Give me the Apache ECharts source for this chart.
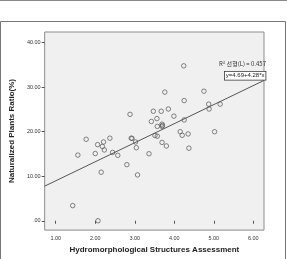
<!DOCTYPE html>
<html>
<head>
<meta charset="utf-8">
<script src="https://cdn.jsdelivr.net/npm/echarts@6/dist/echarts.min.js"></script>
<style>
  html, body { margin: 0; padding: 0; background: #fff; }
  #main { width: 287px; height: 259px; }
</style>
</head>
<body>
<div id="main"></div>
<script>
// 散点数据 (评估值, 归化植物比例)
var xVals = [1.43, 2.07, 1.56, 1.77, 2.00, 2.06, 2.18, 2.21, 2.23, 2.15,
             2.37, 2.44, 2.57, 2.80, 2.88, 2.91, 2.93, 3.02, 3.04, 3.07,
             3.36, 3.42, 3.47, 3.51, 3.56, 3.57, 3.57, 3.67, 3.69, 3.70,
             3.69, 3.69, 3.76, 3.80, 3.85, 3.99, 4.15, 4.20, 4.24, 4.25,
             4.25, 4.35, 4.37, 4.75, 4.87, 4.88, 5.02, 5.16];
var yVals = [3.4, 0.0, 14.75, 18.3, 15.1, 17.1, 16.7, 17.7, 15.9, 10.9,
             18.55, 15.35, 14.7, 12.6, 23.9, 18.55, 18.5, 17.7, 16.4, 10.3,
             15.05, 22.3, 24.6, 19.15, 22.95, 19.0, 21.2, 24.6, 21.7, 21.4,
             21.2, 17.6, 28.9, 16.8, 25.1, 23.5, 20.0, 19.2, 34.8, 27.0,
             22.65, 19.5, 16.3, 29.1, 26.2, 25.1, 20.0, 26.2];

// 回归系数
var fitCoef = [4.69, 4.28];

// 坐标轴范围与刻度
var xRange = [0.72, 6.27];
var yRange = [-2.1, 42.4];
var xTicks = [1, 2, 3, 4, 5, 6];
var yTicks = [0, 10, 20, 30, 40];

var aoPts = [];
for (var i = 0; i < xVals.length; i++) {
    aoPts.push([xVals[i], yVals[i]]);
}
var aoFit = [
    [xRange[0], fitCoef[0] + fitCoef[1] * xRange[0]],
    [xRange[1], fitCoef[0] + fitCoef[1] * xRange[1]]
];

function fmt(v) {
    var s = v.toFixed(2);
    return s === '0.00' ? '.00' : s;
}

var oChart = echarts.init(document.getElementById('main'));
var oOpt = {
    animation: false,
    graphic: [
        { type: 'rect', shape: { x: 0, y: 0, width: 287, height: 1 }, style: { fill: '#888' } },
        { type: 'rect', shape: { x: 0.5, y: 21.5, width: 285, height: 240 },
          style: { fill: 'none', stroke: '#777', lineWidth: 1 } },
        { type: 'text', left: 219, top: 61,
          style: { text: 'R² 선형(L) = 0.457', fontSize: 6, fill: '#333',
                   fontFamily: 'Noto Sans CJK KR' } },
        { type: 'text', left: 224, top: 71,
          style: { text: 'y=4.69+4.28*x', fontSize: 6, fill: '#222', fontFamily: 'Arial',
                   backgroundColor: '#fff', borderColor: '#333', borderWidth: 0.8,
                   padding: [1, 1, 1, 1] } }
    ],
    grid: {
        left: 44, right: 23, top: 32, bottom: 28,
        show: true, backgroundColor: '#f0f0f0', borderColor: '#8c8c8c', borderWidth: 1
    },
    xAxis: {
        type: 'value', min: xRange[0], max: xRange[1],
        name: 'Hydromorphological Structures Assessment',
        nameLocation: 'middle', nameGap: 12,
        nameTextStyle: { fontSize: 8, fontWeight: 'bold', color: '#222', fontFamily: 'Arial' },
        axisLine: { show: false },
        splitLine: { show: false },
        axisTick: { show: true, length: 3, customValues: xTicks, lineStyle: { color: '#555' } },
        axisLabel: { customValues: xTicks, fontSize: 5.5, color: '#333', margin: 5,
                     formatter: fmt }
    },
    yAxis: {
        type: 'value', min: yRange[0], max: yRange[1],
        name: 'Naturalized Plants Ratio(%)',
        nameLocation: 'middle', nameGap: 20,
        nameTextStyle: { fontSize: 8, fontWeight: 'bold', color: '#222', fontFamily: 'Arial' },
        axisLine: { show: false },
        splitLine: { show: false },
        axisTick: { show: true, length: 3, customValues: yTicks, lineStyle: { color: '#555' } },
        axisLabel: { customValues: yTicks, fontSize: 5.5, color: '#333', margin: 4,
                     formatter: fmt }
    },
    series: [
        {
            type: 'line', data: aoFit, symbol: 'none', silent: true,
            lineStyle: { color: '#555', width: 1 }
        },
        {
            type: 'scatter', data: aoPts, symbol: 'circle', symbolSize: 4.5,
            itemStyle: { color: 'rgba(0,0,0,0)', borderColor: '#555', borderWidth: 0.9 }
        }
    ]
};
oChart.setOption(oOpt);
</script>
</body>
</html>
